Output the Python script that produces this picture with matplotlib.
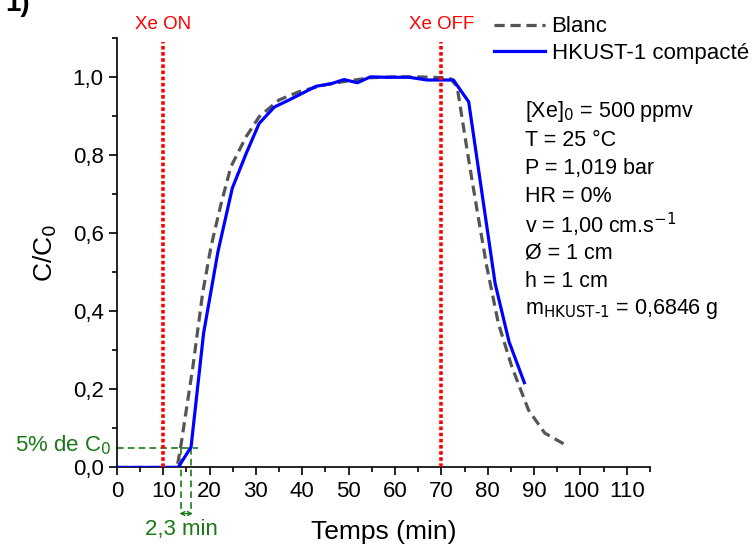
import numpy as np
import matplotlib
matplotlib.use("Agg")
import matplotlib.pyplot as plt
from matplotlib.ticker import MultipleLocator, FuncFormatter

plt.rcParams["font.family"] = ["Liberation Sans", "DejaVu Sans"]

# Blanc (empty column) breakthrough
blanc_t = [0, 13.0, 13.9, 16.4, 18.5, 20.3, 22.5, 24.6, 27.9, 30.7, 35.0, 39.3,
           45.0, 50.0, 55.0, 60.0, 65.0, 70.0, 72.0, 73.4, 75.9, 77.7, 79.8,
           82.3, 85.2, 88.8, 92.3, 96.6]
blanc_c = [0, 0, 0.063, 0.258, 0.446, 0.565, 0.676, 0.770, 0.847, 0.898, 0.941,
           0.962, 0.980, 0.990, 0.998, 1.000, 1.000, 0.998, 0.995, 0.975, 0.787,
           0.659, 0.514, 0.369, 0.258, 0.147, 0.088, 0.059]

# HKUST-1 compacted bed
hk_t = [0, 13.2, 16.0, 18.7, 21.8, 24.9, 27.9, 30.7, 34.0, 37.0, 40.0, 43.0,
        46.1, 49.0, 51.9, 54.7, 58.0, 63.0, 66.9, 72.6, 75.9, 81.6, 84.6, 87.9]
hk_c = [0, 0, 0.052, 0.343, 0.552, 0.715, 0.804, 0.881, 0.923, 0.940, 0.958,
        0.976, 0.982, 0.993, 0.985, 1.000, 0.999, 0.999, 0.992, 0.992, 0.936,
        0.471, 0.322, 0.217]

xe_on, xe_off = 10, 70
t5_blanc, t5_hk = 13.9, 16.0

conditions = ["[Xe]$_0$ = 500 ppmv", "T = 25 °C", "P = 1,019 bar", "HR = 0%",
              "v = 1,00 cm.s$^{-1}$", "Ø = 1 cm", "h = 1 cm",
              "m$_{\\mathrm{HKUST\\text{-}1}}$ = 0,6846 g"]

fig = plt.figure(figsize=(7.54, 5.48), dpi=100)
ax = fig.add_axes([0.155, 0.147, 0.707, 0.784])

l1, = ax.plot(blanc_t, blanc_c, color="#555555", lw=2.3, ls=(0, (3.2, 1.8)),
              label="Blanc", zorder=3)
l2, = ax.plot(hk_t, hk_c, color="#0000ff", lw=2.3, label="HKUST-1 compacté", zorder=4)

for xv, lab in [(xe_on, "Xe ON"), (xe_off, "Xe OFF")]:
    ax.plot([xv, xv], [0, 1.088], color="red", ls=(0, (1, 0.7)), lw=2.6, zorder=5,
            clip_on=False)
    ax.text(xv, 1.133, lab, color="red", ha="center", va="center", fontsize=13.5)

# 5% annotation
green = "#1a7a1a"
ax.plot([0, 17.5], [0.05, 0.05], color=green, ls=(0, (4, 2.5)), lw=1.2, zorder=2)
for xv in (t5_blanc, t5_hk):
    ax.plot([xv, xv], [0.05, -0.12], color=green, ls=(0, (4, 2.5)), lw=1.2,
            clip_on=False, zorder=2)
ax.annotate("", xy=(t5_blanc - 1.0, -0.118), xytext=(t5_hk + 1.0, -0.118),
            arrowprops=dict(arrowstyle="<->", color=green, lw=1, mutation_scale=7),
            annotation_clip=False)
ax.text(t5_blanc + 0.1, -0.16, "2,3 min", color=green, ha="center", va="center",
        fontsize=16)
ax.text(-1.2, 0.058, "5% de C$_0$", color=green, ha="right", va="center", fontsize=16)

ax.set_xlim(0, 115)
ax.set_ylim(0, 1.1)
ax.xaxis.set_major_locator(MultipleLocator(10))
ax.xaxis.set_minor_locator(MultipleLocator(5))
ax.yaxis.set_major_locator(MultipleLocator(0.2))
ax.yaxis.set_minor_locator(MultipleLocator(0.1))
ax.yaxis.set_major_formatter(FuncFormatter(lambda v, p: f"{v:.1f}".replace(".", ",")))
ax.tick_params(which="both", direction="out", width=1.2, labelsize=16)
ax.tick_params(which="major", length=6)
ax.tick_params(which="minor", length=3.5)
for s in ("top", "right"):
    ax.spines[s].set_visible(False)
for s in ("left", "bottom"):
    ax.spines[s].set_linewidth(1.2)

ax.set_xlabel("Temps (min)", fontsize=19, va="center")
ax.xaxis.set_label_coords(0.5, -0.15)
ax.set_ylabel("C/C$_0$", fontsize=19, va="center")
ax.yaxis.set_label_coords(-0.135, 0.5)

for i, line in enumerate(conditions):
    fig.text(0.696, 1 - (112 + i * 28.2) / 548, line, fontsize=15.5, va="center")

fig.legend(handles=[l1, l2], loc="upper left", bbox_to_anchor=(0.652, 0.974),
           frameon=False, fontsize=16, handlelength=2.3, handletextpad=0.3,
           labelspacing=0.25, borderaxespad=0.1, borderpad=0.0)

fig.text(0.04, 1 - 11 / 548, "1)", ha="right", va="baseline", fontsize=20,
         fontweight="bold")

fig.savefig("out.png", dpi=100)
